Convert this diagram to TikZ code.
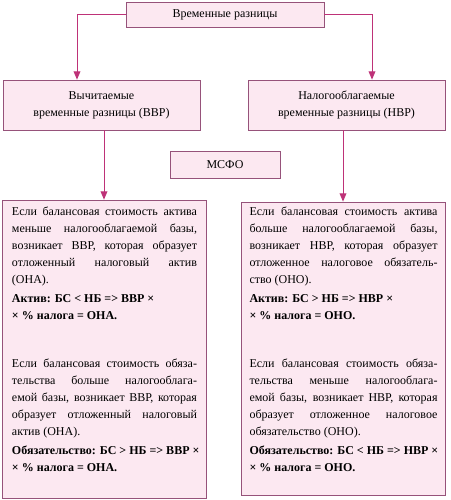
\documentclass[tikz,border=0pt]{standalone}
\usepackage{fontspec}
\setmainfont{Liberation Serif}
\usetikzlibrary{arrows,%
                shapes,positioning}
\definecolor{boxfill}{RGB}{252,232,241}
\definecolor{boxline}{RGB}{150,82,122}
\definecolor{arrline}{RGB}{190,50,120}

\begin{document}
\begin{tikzpicture}[x=1pt,y=-1pt,
  every node/.style={font=\fontsize{12}{17}\selectfont},
  pinkbox/.style={draw=boxline,fill=boxfill,line width=0.8pt,inner sep=0pt,align=center},
  bodytext/.style={align=justify,inner sep=0pt,anchor=north},
  link/.style={draw=arrline,line width=0.9pt,-triangle 45}]
\useasboundingbox (0,0) rectangle (450,500);
\node[pinkbox,minimum width=198pt,minimum height=25pt] (vr) at (225,14.5) {Временные разницы};
\node[pinkbox,minimum width=197pt,minimum height=50pt] (vvr) at (101.5,105) {Вычитаемые\\временные разницы (ВВР)};
\node[pinkbox,minimum width=197pt,minimum height=50pt] (nvr) at (346.5,105) {Налогооблагаемые\\временные разницы (НВР)};
\node[pinkbox,minimum width=110pt,minimum height=27pt] (msfo) at (225,164.5) {МСФО};
\node[pinkbox,minimum width=204pt,minimum height=298pt] (vvrbig) at (104,349) {};
\node[pinkbox,minimum width=204pt,minimum height=293pt] (nvrbig) at (343,348.5) {};
\node[bodytext,text width=185pt] (vvrtext) at (104.5,206.5) {Если балансовая стоимость актива\linebreak
меньше налогооблагаемой базы,\linebreak
возникает ВВР, которая образует\linebreak
отложенный налоговый актив\linebreak
(ОНА).\par\vspace{2pt}
\mbox{\textbf{Актив: БС < НБ => ВВР ×}}\\
\mbox{\textbf{× \% налога = ОНА.}}\par\vspace{31pt}
Если балансовая стоимость обяза-\linebreak
тельства больше налогооблага-\linebreak
емой базы, возникает ВВР, которая\linebreak
образует отложенный налоговый\linebreak
актив (ОНА).\par\vspace{2pt}
\mbox{\textbf{Обязательство: БС > НБ => ВВР ×}}\\
\mbox{\textbf{× \% налога = ОНА.}}};
\node[bodytext,text width=188pt] (nvrtext) at (343.5,206.5) {Если балансовая стоимость актива\linebreak
больше налогооблагаемой базы,\linebreak
возникает НВР, которая образует\linebreak
отложенное налоговое обязатель-\linebreak
ство (ОНО).\par\vspace{2pt}
\mbox{\textbf{Актив: БС > НБ => НВР ×}}\\
\mbox{\textbf{× \% налога = ОНО.}}\par\vspace{31pt}
Если балансовая стоимость обяза-\linebreak
тельства меньше налогооблага-\linebreak
емой базы, возникает НВР, которая\linebreak
образует отложенное налоговое\linebreak
обязательство (ОНО).\par\vspace{2pt}
\mbox{\textbf{Обязательство: БС < НБ => НВР ×}}\\
\mbox{\textbf{× \% налога = ОНО.}}};
\draw[link] (vr.west) -| ([xshift=-24.5pt]vvr.north);
\draw[link] (vr.east) -| ([xshift=25.5pt]nvr.north);
\draw[link] (vvrbig.north |- vvr.south) -- (vvrbig.north);
\draw[link] (nvrbig.north |- nvr.south) -- (nvrbig.north);
\end{tikzpicture}
\end{document}
